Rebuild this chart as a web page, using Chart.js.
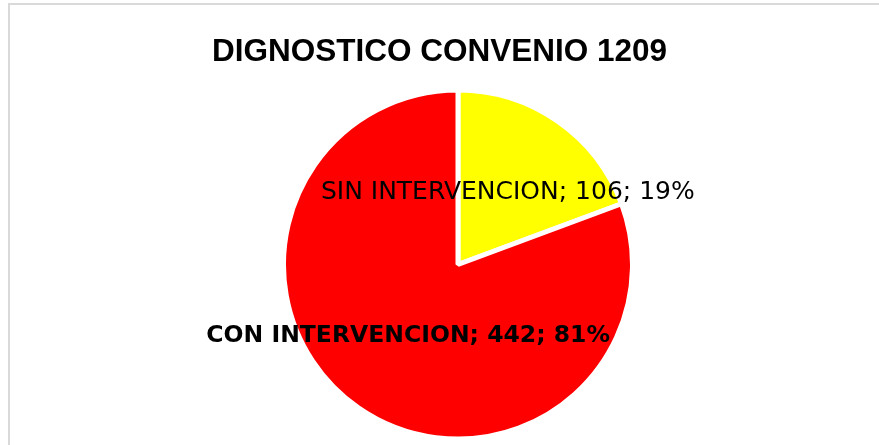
<!DOCTYPE html>
<html>
<head>
<meta charset="utf-8">
<script src="https://cdn.jsdelivr.net/npm/chart.js@4/dist/chart.umd.min.js"></script>
<style>
  html, body { margin: 0; padding: 0; background: #ffffff; overflow: hidden; }
  #wrap { position: relative; width: 879px; height: 445px; }
  #frame { position: absolute; left: 8px; top: 3px; width: 1000px; height: 1000px;
           border: 2px solid #d9d9d9; box-sizing: border-box; pointer-events: none; }
  canvas { position: absolute; left: 0; top: 0; }
</style>
</head>
<body>
<div id="wrap">
  <canvas id="c" width="879" height="445"></canvas>
  <div id="frame"></div>
</div>
<script>
const title = "DIGNOSTICO CONVENIO 1209";
const categories = ["SIN INTERVENCION", "CON INTERVENCION"];
const values = [106, 442];
const sliceColors = ["#FFFF00", "#FF0000"];

const labelFonts = [
  { family: "DejaVu Sans", size: 25, weight: "normal" },
  { family: "DejaVu Sans", size: 23.5, weight: "bold" }
];

const total = values.reduce((a, b) => a + b, 0);

// Center the title across the whole canvas (not just the padded area)
const fullWidthTitle = {
  id: "fullWidthTitle",
  afterLayout(chart) {
    const t = chart.titleBlock;
    if (t) {
      t.left = 0;
      t.right = chart.width;
      t.width = chart.width;
    }
  }
};

const sliceLabels = {
  id: "sliceLabels",
  afterDatasetsDraw(chart) {
    const ctx = chart.ctx;
    const meta = chart.getDatasetMeta(0);
    ctx.save();
    ctx.fillStyle = "#000000";
    ctx.textAlign = "center";
    ctx.textBaseline = "middle";
    meta.data.forEach((arc, i) => {
      const p = arc.getCenterPoint();
      const f = labelFonts[i];
      ctx.font = f.weight + " " + f.size + "px '" + f.family + "'";
      const pct = Math.round(values[i] / total * 100);
      const txt = categories[i] + "; " + values[i] + "; " + pct + "%";
      ctx.fillText(txt, p.x, p.y);
    });
    ctx.restore();
  }
};

new Chart(document.getElementById("c"), {
  type: "pie",
  data: {
    labels: categories,
    datasets: [{
      data: values,
      backgroundColor: sliceColors,
      borderColor: "#ffffff",
      borderWidth: 5
    }]
  },
  options: {
    responsive: false,
    animation: false,
    events: [],
    layout: { padding: { left: 37, right: 0, top: 0, bottom: 3.5 } },
    plugins: {
      legend: { display: false },
      tooltip: { enabled: false },
      title: {
        display: true,
        text: title,
        color: "#000000",
        font: { family: "'Liberation Sans', Arial, sans-serif", size: 31.5, weight: "bold", lineHeight: 1.2 },
        padding: { top: 33, bottom: 16.7 }
      }
    }
  },
  plugins: [fullWidthTitle, sliceLabels]
});
</script>
</body>
</html>
